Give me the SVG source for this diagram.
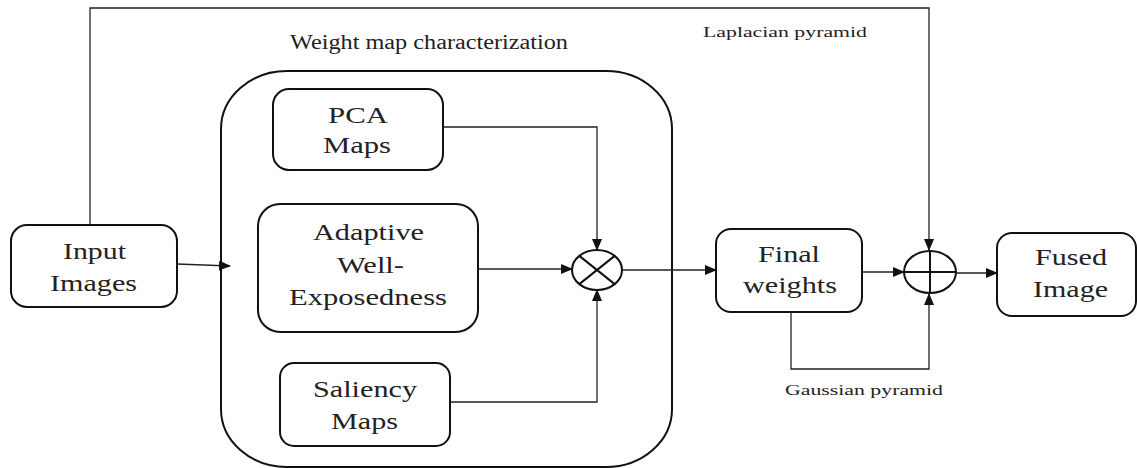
<svg xmlns="http://www.w3.org/2000/svg" width="1137" height="468" viewBox="0 0 1137 468">
<style>
  .box { fill: #fff; stroke: #111; stroke-width: 2; }
  .op { fill: #fff; stroke: #111; stroke-width: 2; }
  .conn { fill: none; stroke: #222; stroke-width: 1.3; }
  text { font-family: 'Liberation Serif', 'DejaVu Serif', serif; fill: #222; text-anchor: middle; }
  .lbl { font-size: 23px; }
</style>
<defs>
  <marker id="arr" markerUnits="userSpaceOnUse" markerWidth="12" markerHeight="10" refX="11" refY="5" orient="auto">
    <path d="M0,0 L12,5 L0,10 Z" fill="#111"/>
  </marker>
</defs>
<rect width="1137" height="468" fill="#fff"/>

<g id="group-weightmap">
  <rect class="box" x="221" y="71" width="451" height="396" rx="66" ry="58"/>
  <text font-family="Liberation Serif, serif" x="429" y="49" font-size="20" textLength="278" lengthAdjust="spacingAndGlyphs">Weight map characterization</text>
</g>

<g id="connectors">
  <path class="conn" d="M90,225 V8 H929 V250" marker-end="url(#arr)"/>
  <path class="conn" d="M177,264 L230,266" marker-end="url(#arr)"/>
  <path class="conn" d="M443,127 H597 V250" marker-end="url(#arr)"/>
  <path class="conn" d="M478,269 H572" marker-end="url(#arr)"/>
  <path class="conn" d="M450,402 H597 V290" marker-end="url(#arr)"/>
  <path class="conn" d="M622,270 H716" marker-end="url(#arr)"/>
  <path class="conn" d="M862,272 H904" marker-end="url(#arr)"/>
  <path class="conn" d="M791,312 V369 H929 V294" marker-end="url(#arr)"/>
  <path class="conn" d="M956,273 H997" marker-end="url(#arr)"/>
  <text font-family="Liberation Serif, serif" x="785" y="37" font-size="15" textLength="164" lengthAdjust="spacingAndGlyphs">Laplacian pyramid</text>
  <text font-family="Liberation Serif, serif" x="864" y="395" font-size="15" textLength="158" lengthAdjust="spacingAndGlyphs">Gaussian pyramid</text>
</g>

<g id="node-input">
  <rect class="box" x="11" y="225" width="166" height="82" rx="16"/>
  <text class="lbl" x="94.5" y="259" textLength="63" lengthAdjust="spacingAndGlyphs">Input</text>
  <text class="lbl" x="93.5" y="291" textLength="87" lengthAdjust="spacingAndGlyphs">Images</text>
</g>

<g id="node-pca">
  <rect class="box" x="273" y="89" width="170" height="81" rx="16"/>
  <text class="lbl" x="358" y="123" textLength="60" lengthAdjust="spacingAndGlyphs">PCA</text>
  <text class="lbl" x="357" y="153" textLength="68" lengthAdjust="spacingAndGlyphs">Maps</text>
</g>

<g id="node-adaptive">
  <rect class="box" x="258" y="204" width="220" height="128" rx="22"/>
  <text class="lbl" x="368.5" y="240" textLength="111" lengthAdjust="spacingAndGlyphs">Adaptive</text>
  <text class="lbl" x="370.5" y="273" textLength="67" lengthAdjust="spacingAndGlyphs">Well-</text>
  <text class="lbl" x="368" y="305" textLength="158" lengthAdjust="spacingAndGlyphs">Exposedness</text>
</g>

<g id="node-saliency">
  <rect class="box" x="280" y="363" width="170" height="83" rx="14"/>
  <text class="lbl" x="365" y="397" textLength="104" lengthAdjust="spacingAndGlyphs">Saliency</text>
  <text class="lbl" x="364.5" y="429" textLength="67" lengthAdjust="spacingAndGlyphs">Maps</text>
</g>

<g id="node-multiply">
  <ellipse class="op" cx="597" cy="270" rx="25" ry="20"/>
  <path d="M579.3,255.9 L614.7,284.1 M614.7,255.9 L579.3,284.1" stroke="#111" stroke-width="2" fill="none"/>
</g>

<g id="node-final">
  <rect class="box" x="716" y="229" width="146" height="83" rx="15"/>
  <text class="lbl" x="789" y="262" textLength="62" lengthAdjust="spacingAndGlyphs">Final</text>
  <text class="lbl" x="790" y="293" textLength="94" lengthAdjust="spacingAndGlyphs">weights</text>
</g>

<g id="node-sum">
  <ellipse class="op" cx="930" cy="272" rx="26" ry="21"/>
  <path d="M930,251 V293 M904,272 H956" stroke="#111" stroke-width="2" fill="none"/>
</g>

<g id="node-fused">
  <rect class="box" x="997" y="233" width="139" height="83" rx="15"/>
  <text class="lbl" x="1071" y="265" textLength="72" lengthAdjust="spacingAndGlyphs">Fused</text>
  <text class="lbl" x="1070.5" y="297" textLength="75" lengthAdjust="spacingAndGlyphs">Image</text>
</g>
</svg>
